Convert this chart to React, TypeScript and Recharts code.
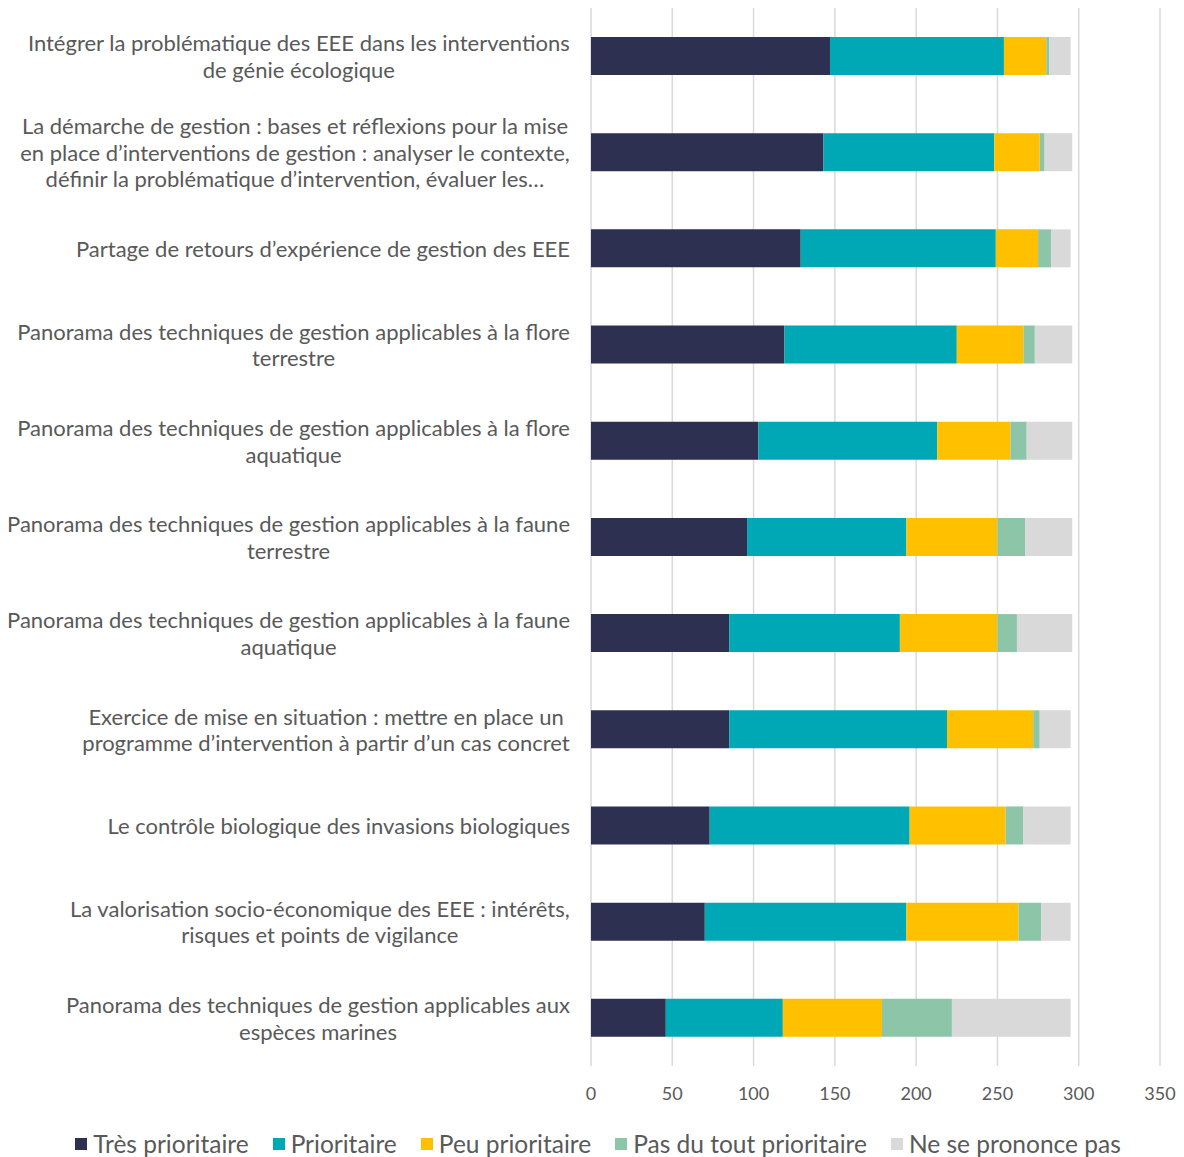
import React from 'react';
import { Bar, BarChart, CartesianGrid, Legend, XAxis, YAxis } from 'recharts';

const categories = [
    'Intégrer la problématique des EEE dans les interventions\nde génie écologique',
    'La démarche de gestion : bases et réflexions pour la mise\nen place d’interventions de gestion : analyser le contexte,\ndéfinir la problématique d’intervention, évaluer les…',
    'Partage de retours d’expérience de gestion des EEE',
    'Panorama des techniques de gestion applicables à la flore\nterrestre',
    'Panorama des techniques de gestion applicables à la flore\naquatique',
    'Panorama des techniques de gestion applicables à la faune\nterrestre',
    'Panorama des techniques de gestion applicables à la faune\naquatique',
    'Exercice de mise en situation : mettre en place un\nprogramme d’intervention à partir d’un cas concret',
    'Le contrôle biologique des invasions biologiques',
    'La valorisation socio-économique des EEE : intérêts,\nrisques et points de vigilance',
    'Panorama des techniques de gestion applicables aux\nespèces marines',
];

const tresPrioritaire = [147, 143, 129, 119, 103, 96, 85, 85, 73, 70, 46];
const prioritaire = [107, 105, 120, 106, 110, 98, 105, 134, 123, 124, 72];
const peuPrioritaire = [26, 28, 26, 41, 45, 56, 60, 53, 59, 69, 61];
const pasDuTout = [2, 3, 8, 7, 10, 17, 12, 4, 11, 14, 43];
const neSePrononcePas = [13, 17, 12, 23, 28, 29, 34, 19, 29, 18, 73];

const xTicks = [0, 50, 100, 150, 200, 250, 300, 350];

const SERIES = [
    { key: 'tres', name: 'Très prioritaire', color: '#2E3052', values: tresPrioritaire },
    { key: 'prio', name: 'Prioritaire', color: '#00A7B5', values: prioritaire },
    { key: 'peu', name: 'Peu prioritaire', color: '#FFC000', values: peuPrioritaire },
    { key: 'pas', name: 'Pas du tout prioritaire', color: '#8CC5A8', values: pasDuTout },
    { key: 'nsp', name: 'Ne se prononce pas', color: '#D9D9D9', values: neSePrononcePas },
];

const data = categories.map((label, i) => {
    const row: Record<string, string | number> = { label };
    SERIES.forEach((s) => (row[s.key] = s.values[i]));
    return row;
});

const FONT = 'Lato, "Noto Sans", sans-serif';
const TEXT = '#595959';
const LABEL_SIZE = 22;
const LINE_H = 26.5;

let ctx: CanvasRenderingContext2D | null = null;
const measure = (s: string) => {
    if (!ctx) ctx = document.createElement('canvas').getContext('2d');
    if (!ctx) return s.length * 10;
    ctx.font = `${LABEL_SIZE}px Lato`;
    return ctx.measureText(s).width;
};

// multi-line category label, lines centred on each other, block right-aligned
const CategoryTick = (props: any) => {
    const { y, payload } = props;
    const lines: string[] = String(payload.value).split('\n');
    const maxW = Math.max(...lines.map(measure));
    const cx = props.x - 13 - maxW / 2;
    const start = -((lines.length - 1) / 2) * LINE_H;
    return (
        <text x={cx} y={y} textAnchor="middle" fill={TEXT} fontSize={LABEL_SIZE} fontFamily={FONT}>
            {lines.map((l, i) => (
                <tspan key={i} x={cx} y={y + start + i * LINE_H} dominantBaseline="central">
                    {l}
                </tspan>
            ))}
        </text>
    );
};

const LegendContent = () => (
    <div
        style={{
            height: 51,
            display: 'flex',
            justifyContent: 'center',
            alignItems: 'flex-end',
            gap: 24,
            fontFamily: FONT,
            fontSize: 24.5,
            color: TEXT,
            paddingLeft: 36,
            boxSizing: 'border-box',
        }}
    >
        {SERIES.map((s) => (
            <div key={s.key} style={{ display: 'flex', alignItems: 'center', lineHeight: '26px' }}>
                <span style={{ width: 12, height: 12, background: s.color, marginRight: 6, display: 'inline-block' }} />
                {s.name}
            </div>
        ))}
    </div>
);

const App = () => {
    return (
        <div style={{ position: 'absolute', left: 0, top: 0, width: 1184, height: 1157, background: '#fff' }}>
            <BarChart
                width={1184}
                height={1157}
                data={data}
                layout="vertical"
                barSize={38}
                margin={{ top: 8, right: 24, left: 0, bottom: 0 }}
            >
                <CartesianGrid horizontal={false} stroke="#D9D9D9" strokeWidth={1.5} />
                <XAxis
                    type="number"
                    domain={[0, 350]}
                    ticks={xTicks}
                    axisLine={false}
                    tickLine={false}
                    height={40}
                    tickMargin={15}
                    tick={{ fill: TEXT, fontSize: 18, fontFamily: FONT }}
                />
                <YAxis
                    type="category"
                    dataKey="label"
                    width={591}
                    axisLine={false}
                    tickLine={false}
                    interval={0}
                    tick={<CategoryTick />}
                />
                <Legend verticalAlign="bottom" content={<LegendContent />} />
                {SERIES.map((s) => (
                    <Bar key={s.key} dataKey={s.key} name={s.name} stackId="a" fill={s.color} isAnimationActive={false} />
                ))}
            </BarChart>
        </div>
    );
};

export default App;
